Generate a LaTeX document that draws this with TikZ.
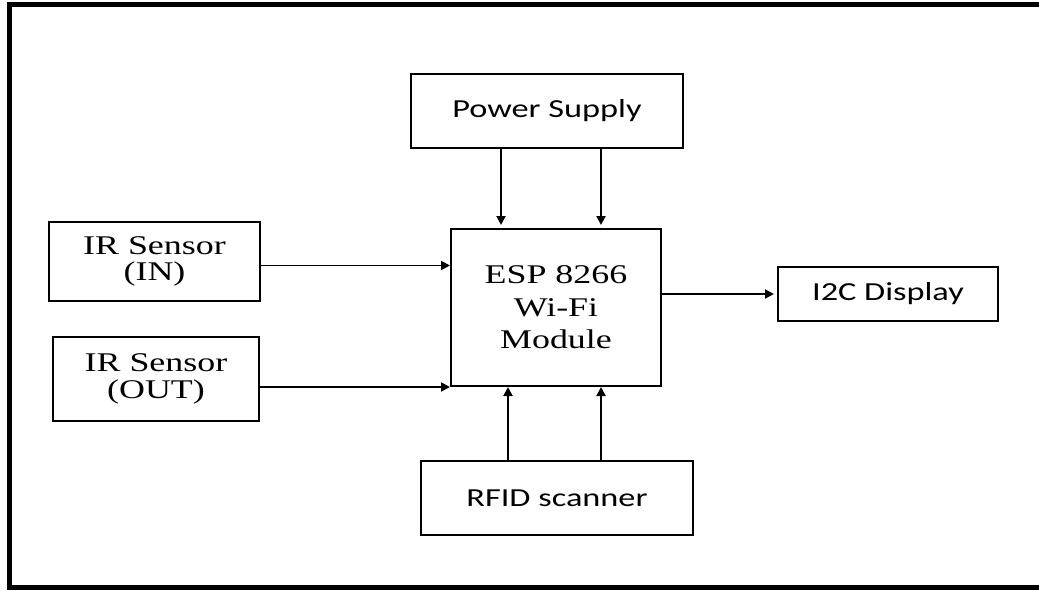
\documentclass[tikz,border=0pt]{standalone}
\usepackage{fontspec}
\usetikzlibrary{arrows.meta,calc}
\newfontfamily\blocksansfont[FakeStretch=1.32]{Carlito}
\newfontfamily\blockseriffont[FakeStretch=1.33]{Liberation Serif}
\tikzset{
  flow/.style={-{Triangle[length=9pt,width=9pt]},line width=1.9pt},
  block/.style={draw,line width=2pt,inner sep=0pt,align=center},
  blocksans/.style={block,font=\blocksansfont\fontsize{26}{28}\selectfont},
  blockserif/.style={block,font=\blockseriffont\fontsize{27}{26.5}\selectfont},
  frame/.style={line width=5pt},
}
\begin{document}
\begin{tikzpicture}[x=1pt,y=-1pt]
  \useasboundingbox (0,0) rectangle (1039,591);
  % outer frame, open on the right
  \draw[frame] (1039,5) -- (9,5) -- (9,587) -- (1039,587);

  % the module and what feeds it
  \node[blockserif,minimum width=210pt,minimum height=157pt,
        font=\blockseriffont\fontsize{27}{32.5}\selectfont] (esp) at (556,307.5)
    {ESP 8266\\Wi-Fi\\Module};
  \node[blocksans,minimum width=272pt,minimum height=74pt] (ps) at (547,111) {Power Supply};
  \node[blockserif,minimum width=211pt,minimum height=79pt] (irin) at (154.5,261.5) {IR Sensor\\(IN)};
  \node[blockserif,minimum width=206pt,minimum height=84pt] (irout) at (156,379) {IR Sensor\\(OUT)};
  \node[blocksans,minimum width=220pt,minimum height=54pt] (i2c) at (888,294) {I2C Display};
  \node[blocksans,minimum width=272pt,minimum height=74pt] (rfid) at (557,498) {RFID scanner};

  \draw[flow,shorten >=3pt] ([xshift=-46pt]ps.south) -- ([xshift=-46pt]ps.south |- esp.north);
  \draw[flow,shorten >=3pt] ([xshift=54pt]ps.south) -- ([xshift=54pt]ps.south |- esp.north);
  \draw[flow] ([yshift=-4pt]irin.east) -- ([yshift=-4pt]irin.east -| esp.west);
  \draw[flow] ([yshift=-8pt]irout.east) -- ([yshift=-8pt]irout.east -| esp.west);
  \draw[flow,shorten >=3pt] (esp.east |- i2c.west) -- (i2c.west);
  \draw[flow] ([xshift=-49pt]rfid.north) -- ([xshift=-49pt]rfid.north |- esp.south);
  \draw[flow] ([xshift=44pt]rfid.north) -- ([xshift=44pt]rfid.north |- esp.south);
\end{tikzpicture}
\end{document}
